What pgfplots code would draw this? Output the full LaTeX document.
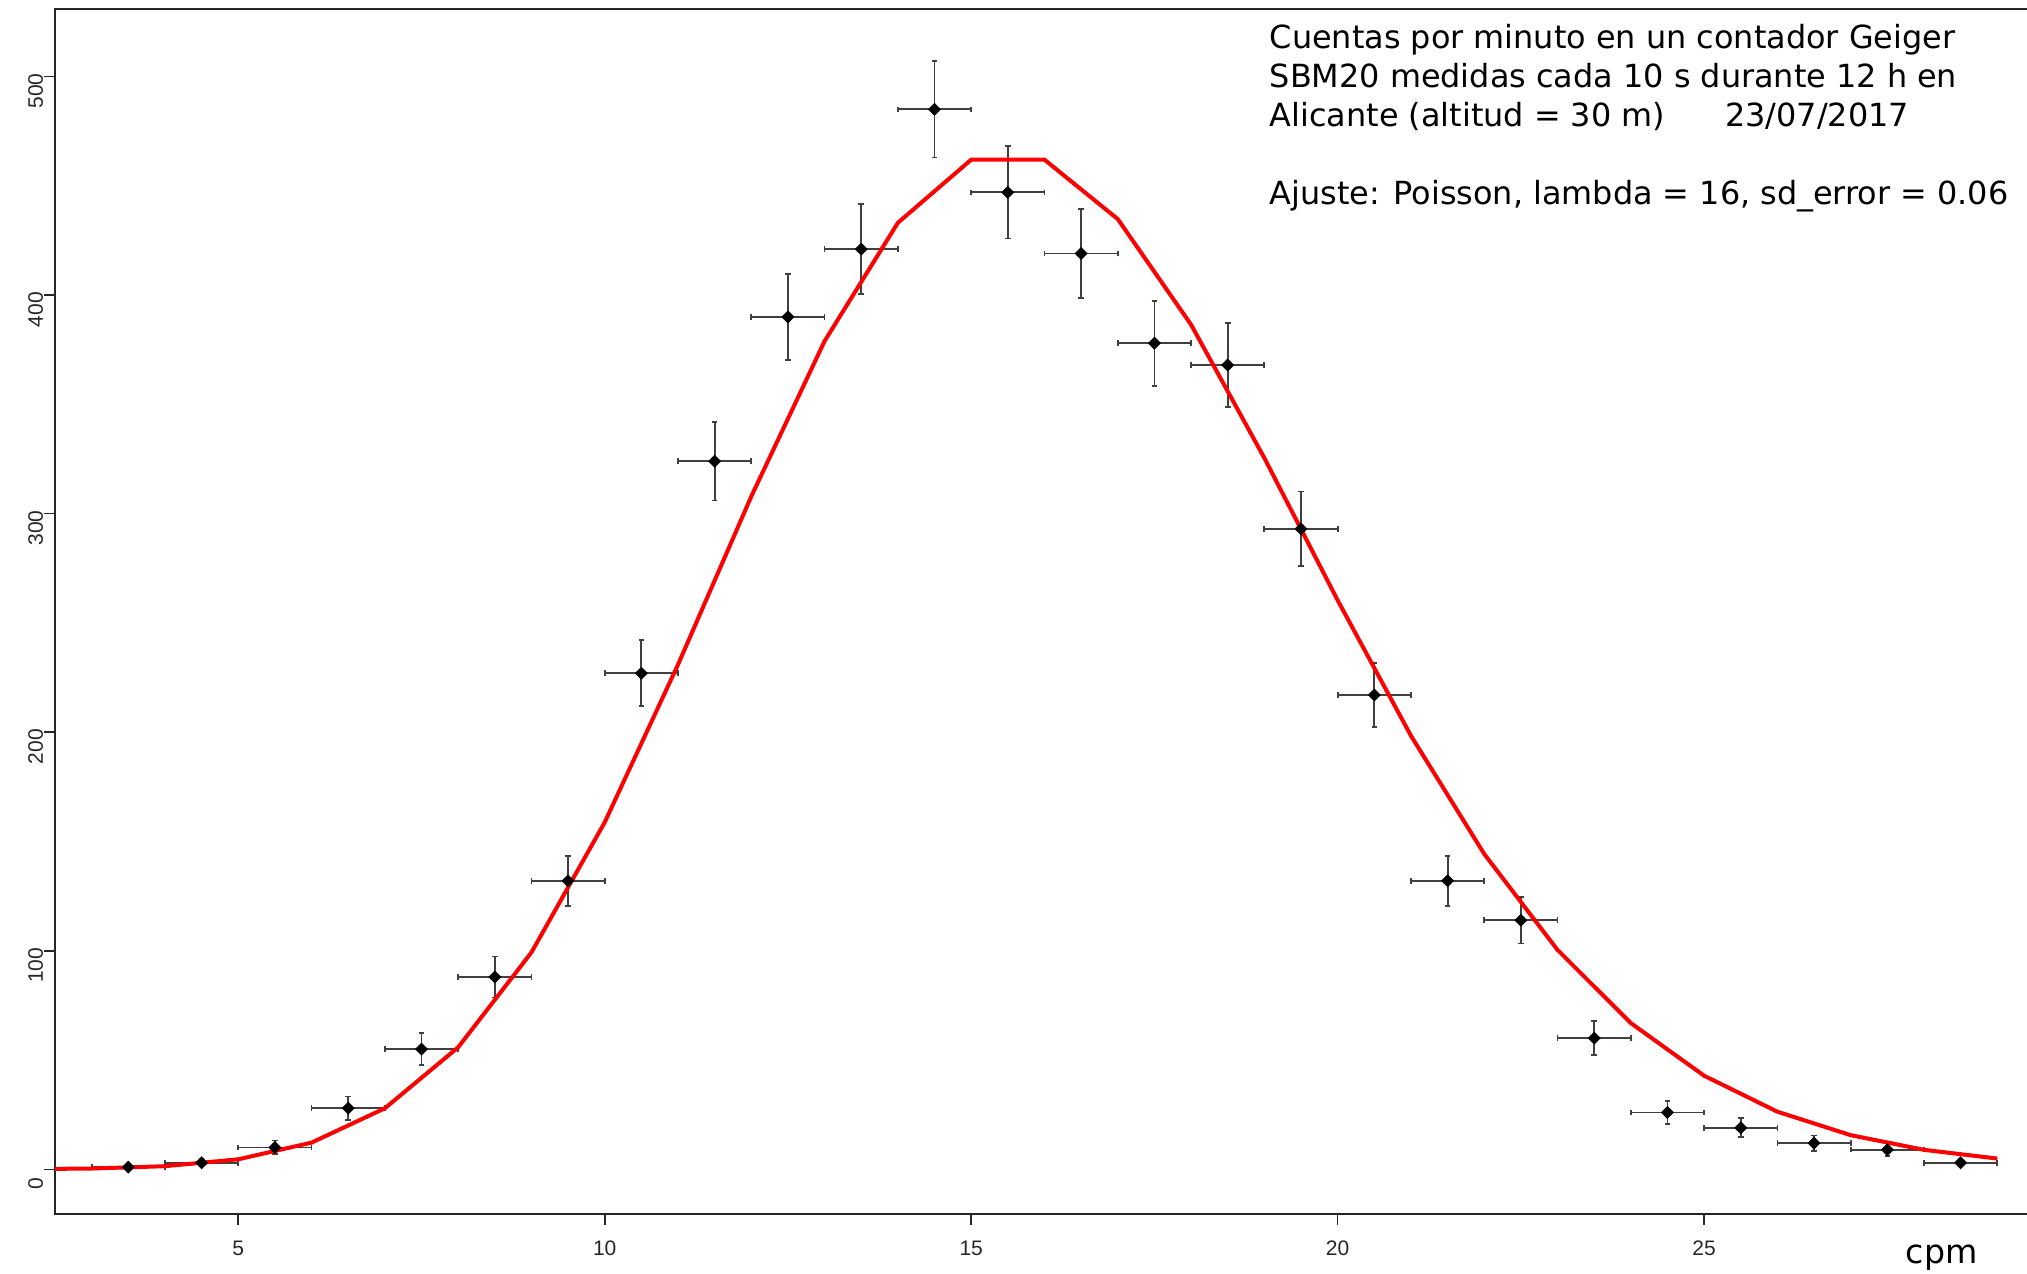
\documentclass[border=0pt]{standalone}
\usepackage{pgfplots}
\pgfplotsset{compat=1.18}
\usepackage{fontspec}
\setmainfont{DejaVu Sans}
\newfontfamily\tickfont{Liberation Sans}

\pgfplotstableread{
x y ex ey
3.5 1 0.5 1.00
4.5 3 0.5 1.73
5.5 10 0.5 3.16
6.5 28 0.5 5.29
7.5 55 0.5 7.42
8.5 88 0.5 9.38
9.5 132 0.5 11.49
10.5 227 0.5 15.07
11.5 324 0.5 18.00
12.5 390 0.5 19.75
13.5 421 0.5 20.52
14.5 485 0.5 22.02
15.5 447 0.5 21.14
16.5 419 0.5 20.47
17.5 378 0.5 19.44
18.5 368 0.5 19.18
19.5 293 0.5 17.12
20.5 217 0.5 14.73
21.5 132 0.5 11.49
22.5 114 0.5 10.68
23.5 60 0.5 7.75
24.5 26 0.5 5.10
25.5 19 0.5 4.36
26.5 12 0.5 3.46
27.5 9 0.5 3.00
28.5 3 0.5 1.73
}\counts

\pgfplotstableread{
x y
2 0.07
3 0.36
4 1.43
5 4.58
6 12.21
7 27.91
8 55.81
9 99.23
10 158.76
11 230.92
12 307.90
13 378.95
14 433.09
15 461.96
16 461.96
17 434.78
18 386.47
19 325.45
20 260.36
21 198.37
22 144.27
23 100.36
24 66.91
25 42.82
26 26.35
27 15.62
28 8.92
29 4.92
}\fit

\begin{document}
\begin{tikzpicture}
\begin{axis}[
  at={(13.75pt,-2.25pt)}, anchor=north west,
  scale only axis, width=494.74pt, height=301.25pt,
  xmin=2.5, xmax=29.5, ymin=-20.45, ymax=530.9,
  axis line style={line width=0.4pt, black!85},
  xtick={5,10,15,20,25}, ytick={0,100,200,300,400,500},
  tick align=outside, major tick length=2.75pt,
  tick style={line width=0.4pt, black!85},
  xtick pos=bottom, ytick pos=left,
  /pgf/number format/assume math mode=true,
  ticklabel style={font=\tickfont\fontsize{5.25}{6}\selectfont, inner sep=0pt, text=black!85},
  xticklabel style={anchor=north, yshift=-3.75pt},
  yticklabel style={rotate=90, anchor=south, xshift=-3.6pt},
]
\addplot[only marks, mark=square*, mark size=0.95pt, mark options={rotate=45}, black,
  error bars/.cd, x dir=both, x explicit, y dir=both, y explicit,
  error bar style={line width=0.45pt, black!75},
  error mark options={rotate=90, line width=0.45pt, black!75, mark size=0.7pt}]
  table[x=x, y=y, x error=ex, y error=ey] {\counts};
\addplot[red, line width=1.0pt, mark=none] table[x=x, y=y] {\fit};
\end{axis}
\begin{scope}[every node/.style={anchor=base west, inner sep=0pt, font=\fontsize{7.97}{9}\selectfont}]
\node at (317.25pt,-12.25pt) {Cuentas por minuto en un contador Geiger};
\node at (317.25pt,-21.95pt) {SBM20 medidas cada 10 s durante 12 h en};
\node at (317.25pt,-31.65pt) {Alicante (altitud = 30 m)};
\node at (431.1pt,-31.65pt) {23/07/2017};
\node at (317.25pt,-51.05pt) {Ajuste: Poisson, lambda = 16, sd\_error = 0.06};
\end{scope}
\node[anchor=base west, inner sep=0pt, font=\fontsize{8.3}{10}\selectfont] at (476.25pt,-315.8pt) {cpm};
\pgfresetboundingbox
\path[use as bounding box] (0,0) rectangle (506.75pt,-318.5pt);
\end{tikzpicture}
\end{document}
